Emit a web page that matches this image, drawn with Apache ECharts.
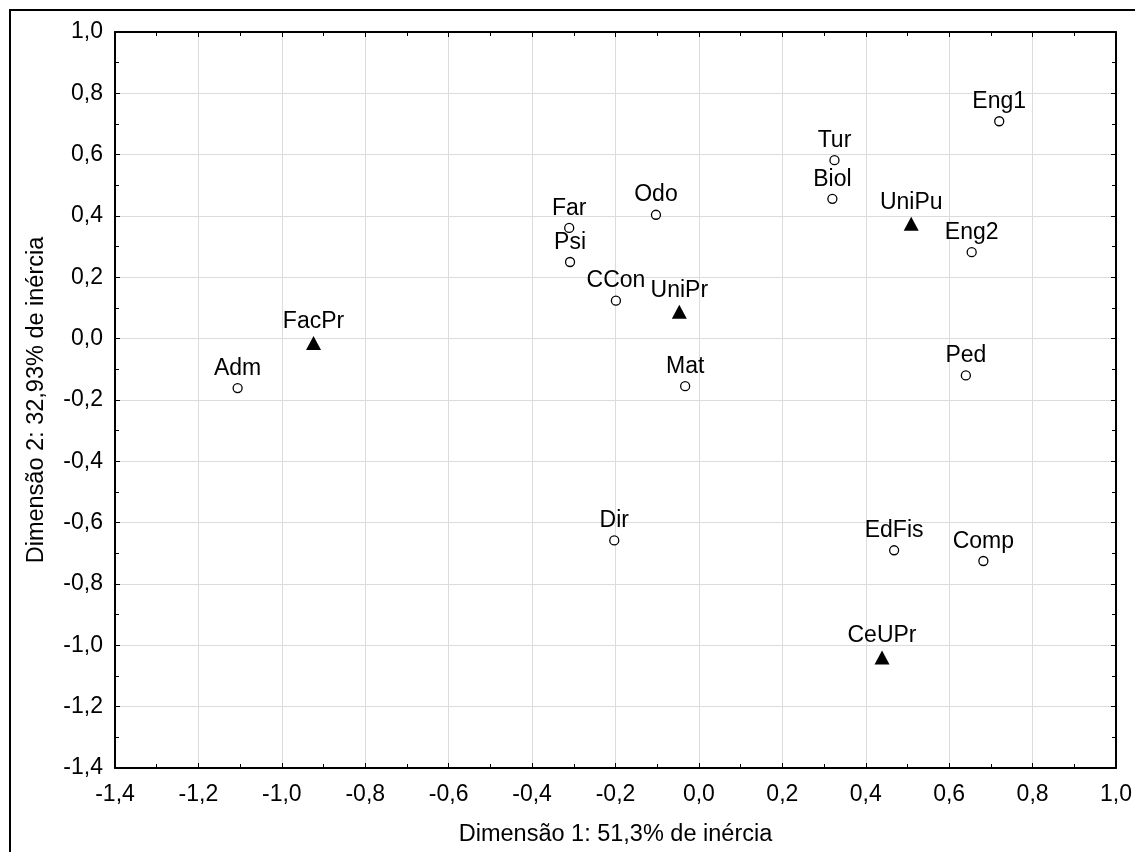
<!DOCTYPE html>
<html>
<head>
<meta charset="utf-8">
<script src="https://cdn.jsdelivr.net/npm/echarts@6/dist/echarts.min.js"></script>
<style>
  html, body { margin: 0; padding: 0; background: #fff; }
  #chart { width: 1135px; height: 852px; }
</style>
</head>
<body>
<div id="chart"></div>
<script>
// pontos (círculos)
var catNames = ['Adm', 'Far', 'Psi', 'Odo', 'CCon', 'Mat', 'Dir', 'Tur', 'Biol', 'Eng1', 'Eng2', 'Ped', 'EdFis', 'Comp'];
var catX = [-1.106, -0.311, -0.309, -0.103, -0.199, -0.033, -0.203, 0.325, 0.320, 0.720, 0.654, 0.640, 0.468, 0.682];
var catY = [-0.161, 0.361, 0.250, 0.404, 0.124, -0.155, -0.658, 0.582, 0.456, 0.709, 0.282, -0.120, -0.690, -0.725];

// instituições (triângulos)
var instNames = ['FacPr', 'UniPr', 'UniPu', 'CeUPr'];
var instX = [-0.924, -0.047, 0.509, 0.439];
var instY = [-0.014, 0.088, 0.375, -1.040];

var axisTicks = [-1.4, -1.2, -1.0, -0.8, -0.6, -0.4, -0.2, 0.0, 0.2, 0.4, 0.6, 0.8, 1.0];

var myChart = echarts.init(document.getElementById('chart'));

function fmt(v) {
  if (Math.abs(v) < 1e-9) v = 0;
  return v.toFixed(1).replace('.', ',');
}

function toPoints(names, xs, ys) {
  return names.map(function (n, i) { return { name: n, value: [xs[i], ys[i]] }; });
}

var font = 'Liberation Sans, Arial, sans-serif';

function axis(extra) {
  var a = {
    type: 'value',
    min: axisTicks[0],
    max: axisTicks[axisTicks.length - 1],
    interval: 0.2,
    axisLine: { show: true, onZero: false, lineStyle: { color: '#000', width: 2 } },
    axisTick: { show: true, inside: true, length: 5, lineStyle: { color: '#000', width: 1 } },
    minorTick: { show: true, splitNumber: 2, length: 4, lineStyle: { color: '#000', width: 1 } },
    nameTextStyle: { color: '#000', fontSize: 23.5, fontFamily: font }
  };
  return Object.assign(a, extra);
}

var option = {
  backgroundColor: '#fff',
  animation: false,
  grid: { left: 115, top: 32, right: 19, bottom: 83, containLabel: false },
  graphic: [{
    type: 'rect',
    shape: { x: 10, y: 10, width: 1300, height: 1000 },
    style: { fill: 'none', stroke: '#000', lineWidth: 2 }
  }],
  xAxis: [
    axis({
      position: 'bottom',
      name: 'Dimensão 1: 51,3% de inércia', nameLocation: 'middle', nameGap: 55,
      axisLabel: { color: '#000', fontSize: 23, fontFamily: font, formatter: fmt, margin: 15 },
      splitLine: { show: true, lineStyle: { color: '#dcdcdc', width: 1 } }
    }),
    axis({
      position: 'top',
      axisLabel: { show: false },
      splitLine: { show: false }
    })
  ],
  yAxis: [
    axis({
      position: 'left',
      name: 'Dimensão 2: 32,93% de inércia', nameLocation: 'middle', nameGap: 66,
      axisLabel: { color: '#000', fontSize: 23, fontFamily: font, formatter: fmt, margin: 12 },
      splitLine: { show: true, lineStyle: { color: '#dcdcdc', width: 1 } }
    }),
    axis({
      position: 'right',
      axisLabel: { show: false },
      splitLine: { show: false }
    })
  ],
  series: [
    {
      name: 'cursos',
      type: 'scatter',
      symbol: 'circle',
      symbolSize: 9,
      itemStyle: { color: '#fff', borderColor: '#000', borderWidth: 1.3, opacity: 1 },
      label: {
        show: true, position: 'top', distance: 3,
        formatter: '{b}', color: '#000', fontSize: 23, fontFamily: font
      },
      data: toPoints(catNames, catX, catY)
    },
    {
      name: 'instituições',
      type: 'scatter',
      symbol: 'triangle',
      symbolSize: [15, 14],
      itemStyle: { color: '#000', opacity: 1 },
      label: {
        show: true, position: 'top', distance: 3,
        formatter: '{b}', color: '#000', fontSize: 23, fontFamily: font
      },
      data: toPoints(instNames, instX, instY)
    }
  ]
};

myChart.setOption(option);
</script>
</body>
</html>
